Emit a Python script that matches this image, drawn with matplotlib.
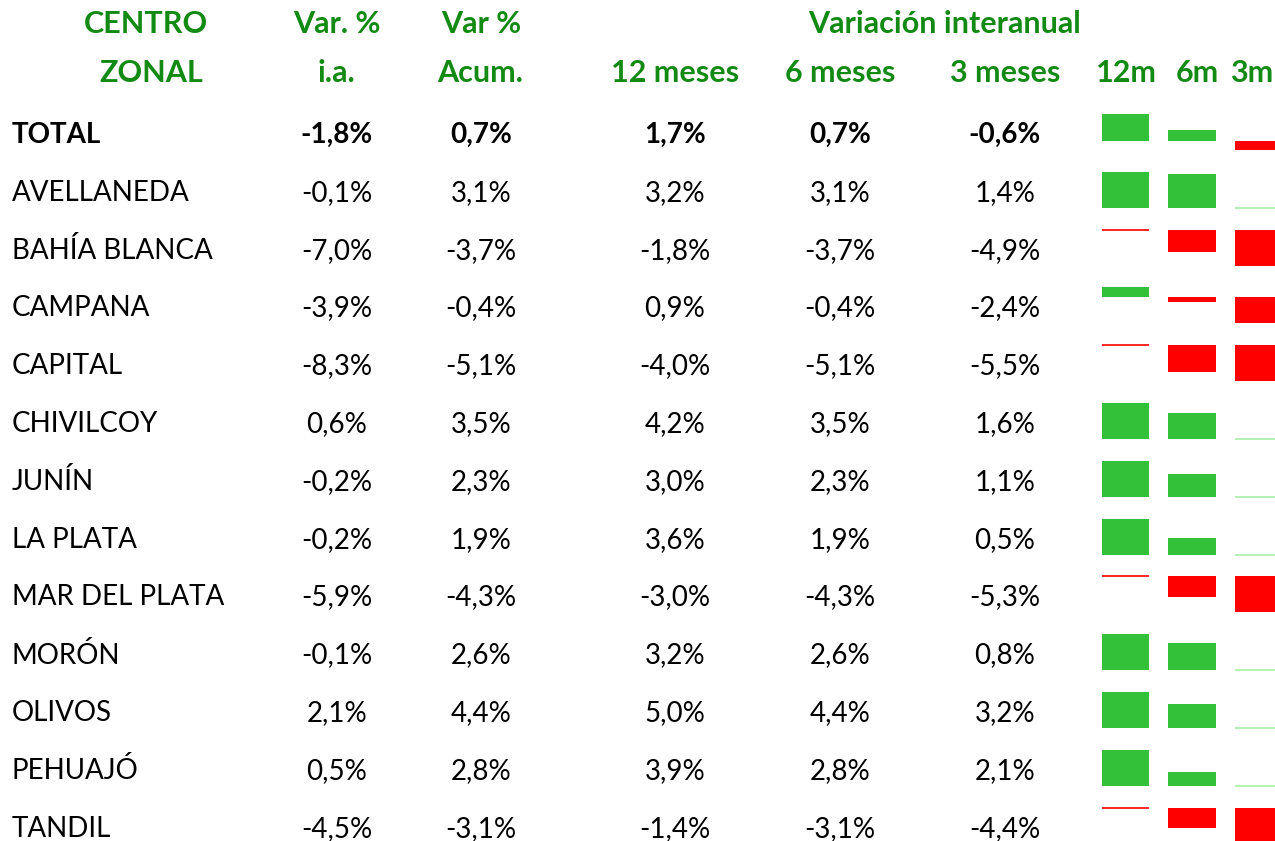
import numpy as np
import matplotlib.pyplot as plt

# ---- data ----
zonas = ["TOTAL", "AVELLANEDA", "BAHÍA BLANCA", "CAMPANA", "CAPITAL", "CHIVILCOY",
         "JUNÍN", "LA PLATA", "MAR DEL PLATA", "MORÓN", "OLIVOS", "PEHUAJÓ", "TANDIL"]
var_ia = [-1.8, -0.1, -7.0, -3.9, -8.3, 0.6, -0.2, -0.2, -5.9, -0.1, 2.1, 0.5, -4.5]
var_acum = [0.7, 3.1, -3.7, -0.4, -5.1, 3.5, 2.3, 1.9, -4.3, 2.6, 4.4, 2.8, -3.1]
m12 = [1.7, 3.2, -1.8, 0.9, -4.0, 4.2, 3.0, 3.6, -3.0, 3.2, 5.0, 3.9, -1.4]
m6 = [0.7, 3.1, -3.7, -0.4, -5.1, 3.5, 2.3, 1.9, -4.3, 2.6, 4.4, 2.8, -3.1]
m3 = [-0.6, 1.4, -4.9, -2.4, -5.5, 1.6, 1.1, 0.5, -5.3, 0.8, 3.2, 2.1, -4.4]
spark_labels = ["12m", "6m", "3m"]

W, H = 1275, 841
GREEN_HDR = "#138A13"
GREEN = "#33C13A"
LIGHT_GREEN = "#A8EFA8"
RED = "#FF0000"
FONT = "Lato"

fig = plt.figure(figsize=(W / 100, H / 100), dpi=100)
ax = fig.add_axes([0, 0, 1, 1])
ax.set_xlim(0, W)
ax.set_ylim(H, 0)
ax.axis("off")


def fmt(v):
    return f"{v:.1f}%".replace(".", ",")


fs = 20
hdr = dict(color=GREEN_HDR, fontsize=22, fontweight="bold", family=FONT,
           ha="center", va="center")
ax.text(146, 24, "CENTRO", **hdr)
ax.text(151, 73, "ZONAL", **hdr)
ax.text(337, 24, "Var. %", **hdr)
ax.text(336, 73, "i.a.", **hdr)
ax.text(481, 24, "Var %", **hdr)
ax.text(480, 73, "Acum.", **hdr)
ax.text(945, 24, "Variación interanual", **hdr)
ax.text(675, 73, "12 meses", **hdr)
ax.text(840, 73, "6 meses", **hdr)
ax.text(1005, 73, "3 meses", **hdr)
for x, lab in zip([1126, 1197, 1252], spark_labels):
    ax.text(x, 73, lab, **hdr)

y0, dy = 135, 57.8
col_x = [337, 481, 675, 840, 1005]
for i, name in enumerate(zonas):
    y = y0 + i * dy
    w = "bold" if i == 0 else "normal"
    ax.text(12, y, name, fontsize=fs, fontweight=w, family=FONT,
            ha="left", va="center", color="black")
    vals = [var_ia[i], var_acum[i], m12[i], m6[i], m3[i]]
    for x, v in zip(col_x, vals):
        ax.text(x, y, fmt(v), fontsize=fs, fontweight=w, family=FONT,
                ha="center", va="center", color="black")

    # sparkline: one column chart across the three cells
    sv = np.array([m12[i], m6[i], m3[i]])
    vmin, vmax = sv.min(), sv.max()
    base = min(max(0.0, vmin), vmax)
    step = 66.5
    left = 1125.5 - step / 2
    top, bot = y - 21, y + 15
    sax = fig.add_axes([left / W, 1 - bot / H, 3 * step / W, (bot - top) / H])
    sax.set_xlim(-0.5, 2.5)
    sax.set_ylim(vmin, vmax)
    sax.axis("off")
    for k, v in enumerate(sv):
        col = GREEN if v >= 0 else RED
        if abs(v - base) < 1e-9:
            thin = LIGHT_GREEN if v > 0 else RED
            sax.hlines(base, k - 0.355, k + 0.355, color=thin, lw=1.2,
                       clip_on=False)
        else:
            sax.bar(k, v - base, bottom=base, width=0.71, color=col,
                    clip_on=False)

fig.savefig("out.png", dpi=100)
